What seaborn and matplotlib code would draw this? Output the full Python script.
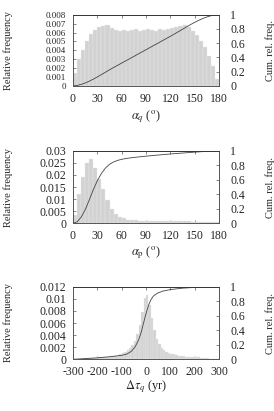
import numpy as np
import pandas as pd
import matplotlib
matplotlib.use("Agg")
import matplotlib.pyplot as plt
import seaborn as sns
from matplotlib.ticker import FormatStrFormatter

# ---- data ----
# alpha_q : 5 deg bins, relative frequency per degree
aq_edges = list(range(0, 181, 5))
aq_freq = [0.0015, 0.0030, 0.0040, 0.0050, 0.0058, 0.0063, 0.0066, 0.0067, 0.0068,
           0.0065, 0.0063, 0.0062, 0.0063, 0.0062, 0.0063, 0.0064, 0.0062, 0.0063,
           0.0064, 0.0063, 0.0062, 0.0064, 0.0063, 0.0064, 0.0065, 0.0066, 0.0067,
           0.0068, 0.0066, 0.0062, 0.0057, 0.0051, 0.0044, 0.0034, 0.0022, 0.0008]

# alpha_p : 5 deg bins
ap_edges = list(range(0, 181, 5))
ap_freq = [0.0035, 0.0120, 0.0190, 0.0250, 0.0265, 0.0230, 0.0185, 0.0140, 0.0095,
           0.0060, 0.0040, 0.0027, 0.0020, 0.0015, 0.0013, 0.0012, 0.0011, 0.0010,
           0.0010, 0.0010, 0.0009, 0.0009, 0.0009, 0.0009, 0.0008, 0.0008, 0.0008,
           0.0008, 0.0008, 0.0007, 0.0007, 0.0007, 0.0006, 0.0006, 0.0006, 0.0005]

# delta tau_q : 10 yr bins
dt_edges = list(range(-300, 301, 10))
dt_freq = [0.0001, 0.0001, 0.0001, 0.0001, 0.0001, 0.0002, 0.0002, 0.0002, 0.0002, 0.0002,
           0.0003, 0.0003, 0.0003, 0.0004, 0.0004, 0.0005, 0.0005, 0.0005, 0.0006, 0.0008,
           0.0010, 0.0012, 0.0015, 0.0019, 0.0024, 0.0031, 0.0042, 0.0057, 0.0078, 0.0102,
           0.0106, 0.0090, 0.0068, 0.0048, 0.0034, 0.0025, 0.0019, 0.0015, 0.0012, 0.0010,
           0.0009, 0.0008, 0.0007, 0.0006, 0.0005, 0.0005, 0.0004, 0.0004, 0.0003, 0.0003,
           0.0003, 0.0003, 0.0002, 0.0002, 0.0002, 0.0002, 0.0001, 0.0001, 0.0001, 0.0001]
dt_cum_x = [-300, -250, -200, -150, -100, -80, -60, -45, -30, -20, -10, 0,
            10, 20, 30, 40, 50, 70, 100, 150, 200, 250, 300]
dt_cum = [0.0, 0.01, 0.02, 0.035, 0.055, 0.07, 0.11, 0.17, 0.27, 0.37, 0.50, 0.63,
          0.74, 0.82, 0.87, 0.895, 0.915, 0.94, 0.96, 0.98, 0.99, 0.997, 1.0]


def cum_from_hist(edges, freq):
    f = np.array(freq) * np.diff(edges)
    c = np.concatenate([[0], np.cumsum(f)])
    return c / c[-1]


sns.set_style("ticks")
plt.rcParams['font.family'] = ['Liberation Serif', 'DejaVu Serif']
plt.rcParams['mathtext.fontset'] = 'stix'
plt.rcParams['axes.unicode_minus'] = False

fig = plt.figure(figsize=(2.74, 4.11), dpi=100)

W, H = 274.0, 411.0
panels = [
    dict(edges=aq_edges, freq=aq_freq, cx=aq_edges, cy=cum_from_hist(aq_edges, aq_freq),
         top=14.7, bot=86.0, xlim=(0, 180), xticks=range(0, 181, 30),
         ylim=0.008, ystep=0.001, yfs=6.5, xlabel=r'$\alpha_q$ ($^{\rm o}$)', xl=117),
    dict(edges=ap_edges, freq=ap_freq, cx=ap_edges, cy=cum_from_hist(ap_edges, ap_freq),
         top=150.7, bot=223.3, xlim=(0, 180), xticks=range(0, 181, 30),
         ylim=0.03, ystep=0.005, yfs=8.5, xlabel=r'$\alpha_{\rm p}$ ($^{\rm o}$)', xl=253),
    dict(edges=dt_edges, freq=dt_freq, cx=dt_cum_x, cy=dt_cum,
         top=286.7, bot=359.3, xlim=(-300, 300), xticks=range(-300, 301, 100),
         ylim=0.012, ystep=0.002, yfs=8.5, xlabel=r'$\Delta\tau_q$ (yr)', xl=387),
]

fs = 7.5
tfs = 8.5
frame = '#555555'
for p in panels:
    h = (p['bot'] - p['top']) / H
    ax = fig.add_axes([73 / W, 1 - p['bot'] / H, 146 / W, h])
    edges = [float(e) for e in p['edges']]
    centers = [(a + b) / 2 for a, b in zip(edges[:-1], edges[1:])]
    df = pd.DataFrame({'x': centers, 'w': p['freq']})
    sns.histplot(data=df, x='x', weights='w', bins=edges, ax=ax,
                 color='#d2d2d2', edgecolor='#ececec', linewidth=0.25, alpha=1)
    ax.set_xlim(*p['xlim'])
    ax.set_ylim(0, p['ylim'])
    ax.set_xticks(list(p['xticks']))
    ax.set_yticks(np.arange(0, p['ylim'] + p['ystep'] / 2, p['ystep']))
    ax.yaxis.set_major_formatter(FormatStrFormatter('%g'))
    ax.tick_params(direction='in', length=2, width=0.5, color=frame,
                   labelsize=tfs, pad=5, top=True)
    ax.tick_params(axis='y', labelsize=p['yfs'])
    ax.set_ylabel('Relative frequency', fontsize=fs)
    ax.yaxis.label.set_va('center')
    ax.yaxis.set_label_coords((8.3 - 73) / 146, 0.5)
    ax.set_xlabel(p['xlabel'], fontsize=9)
    ax.xaxis.label.set_va('center')
    ax.xaxis.set_label_coords(0.5, -(p['xl'] - p['bot']) / (p['bot'] - p['top']))

    ax2 = ax.twinx()
    sns.lineplot(x=p['cx'], y=p['cy'], ax=ax2, color='#444444', linewidth=0.6)
    ax2.set_ylim(0, 1)
    ax2.set_xlim(*p['xlim'])
    ax2.set_yticks(np.arange(0, 1.01, 0.2))
    ax2.yaxis.set_major_formatter(FormatStrFormatter('%g'))
    ax2.tick_params(direction='in', length=2, width=0.5, color=frame,
                    labelsize=tfs, pad=8)
    ax2.set_ylabel('Cum. rel. freq.', fontsize=fs)
    ax2.yaxis.label.set_va('center')
    ax2.yaxis.set_label_coords((270 - 73) / 146, 0.5)

    for a in (ax, ax2):
        for s in a.spines.values():
            s.set_color(frame)
            s.set_linewidth(0.6)
        a.spines['top'].set_linestyle((0, (1, 1)))
        a.spines['top'].set_color('#333333')

fig.savefig('out.png', dpi=100)
